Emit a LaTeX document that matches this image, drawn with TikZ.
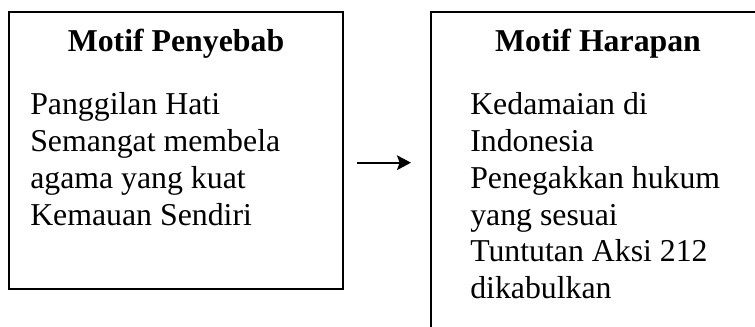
\documentclass[tikz,border=0pt]{standalone}
\usepackage{fontspec}
\setmainfont{Liberation Serif}
\usepackage{tikz}
\usetikzlibrary{arrows.meta,positioning}

\tikzset{
  motifbox/.style={draw, line width=1.5pt, rectangle, inner sep=0pt},
  heading/.style={anchor=base, inner sep=0pt, font=\fontsize{23.85}{27.5}\selectfont\bfseries},
  bodytext/.style={anchor=base west, inner sep=0pt, font=\fontsize{23.85}{27.5}\selectfont},
  flow/.style={line width=1.5pt, -{Stealth[length=10.5pt,width=11pt,inset=2pt]}}
}

\begin{document}
\begin{tikzpicture}[x=0.75pt,y=0.75pt]
\useasboundingbox (0,0) rectangle (755,327);

% Boxes
\node[motifbox, minimum width=250.5pt, minimum height=207.75pt] (penyebab) at (176,176.5) {};
\node[motifbox, minimum width=250.5pt, minimum height=249.75pt] (harapan) at (598,148.5) {};

% Labels
\node[heading] (judulpenyebab) at (176,275) {Motif Penyebab};
\node[heading] (judulharapan) at (598,275) {Motif Harapan};
\foreach \baris [count=\i] in {Panggilan Hati, Semangat membela, agama yang kuat, Kemauan Sendiri}
  \node[bodytext] (penyebab-\i) at (30,{212-36.7*(\i-1)}) {\baris};
\foreach \baris [count=\i] in {Kedamaian di, Indonesia, Penegakkan hukum, yang sesuai, Tuntutan Aksi 212, dikabulkan}
  \node[bodytext] (harapan-\i) at (470,{212-36.7*(\i-1)}) {\baris};

% Arrow
\draw[flow, shorten <=9.75pt, shorten >=14.25pt] ([yshift=-9.15pt]penyebab.east) -- ([yshift=11.85pt]harapan.west);
\end{tikzpicture}
\end{document}
